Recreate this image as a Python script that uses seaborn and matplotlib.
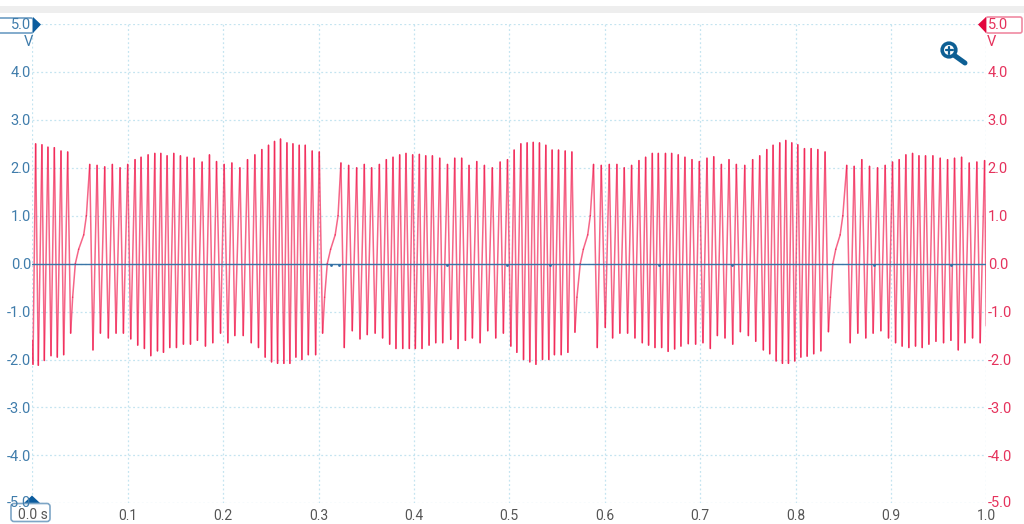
#scope capture, channel B waveform
import pandas as pd
import seaborn as sns
import matplotlib.pyplot as plt
from matplotlib.patches import Circle, FancyBboxPatch, Polygon, Rectangle

# time of every crest, trough and shoulder in ms
wave_t_ms = [
    0.0, 0.7, 3.5, 6.3, 10.1, 12.6, 16.4, 19.6, 23.1, 26.2,
    30.1, 32.9, 37.1, 40.2, 42.3, 45.1, 48.6, 53.9, 56.7, 60.2,
    63.6, 67.9, 71.4, 75.9, 79.7, 83.9, 87.8, 92.0, 95.5, 100.0,
    103.2, 107.7, 110.5, 114.0, 117.5, 121.4, 124.2, 128.4, 131.2, 134.7,
    137.5, 141.3, 144.1, 148.3, 151.1, 155.3, 158.4, 162.3, 165.8, 169.6,
    173.1, 178.0, 181.5, 185.7, 189.2, 193.1, 197.3, 201.1, 205.0, 209.2,
    212.3, 217.6, 221.1, 225.6, 229.5, 233.3, 237.1, 240.6, 244.1, 247.6,
    250.8, 253.9, 257.1, 260.2, 263.7, 266.9, 270.0, 273.2, 276.3, 279.8,
    282.6, 286.1, 289.3, 293.4, 297.0, 300.8, 304.3, 306.4, 309.2, 312.7,
    317.5, 320.5, 323.5, 327.0, 331.6, 335.4, 340.0, 343.5, 348.0, 351.1,
    355.7, 359.4, 363.8, 367.2, 371.1, 374.6, 378.1, 381.2, 385.1, 388.3,
    391.7, 395.2, 398.7, 401.5, 405.7, 408.5, 412.4, 415.9, 419.4, 422.9,
    427.1, 430.2, 435.2, 438.6, 442.8, 446.3, 450.1, 454.0, 457.8, 461.3,
    465.9, 469.4, 473.9, 477.4, 482.2, 485.8, 490.4, 493.8, 498.1, 501.6,
    505.1, 507.9, 512.1, 514.9, 518.7, 521.5, 525.1, 527.9, 531.6, 534.8,
    538.3, 541.4, 544.9, 547.3, 551.6, 554.4, 558.6, 561.4, 565.6, 568.8,
    570.9, 574.4, 577.6, 582.2, 584.9, 588.3, 592.2, 596.4, 600.6, 604.8,
    608.3, 612.8, 615.9, 620.5, 624.0, 628.2, 631.7, 635.9, 639.4, 642.9,
    646.0, 649.9, 652.7, 656.2, 659.7, 663.7, 666.5, 670.2, 673.3, 677.1,
    679.9, 684.1, 687.6, 691.5, 695.3, 699.2, 703.0, 707.2, 710.7, 714.3,
    718.1, 722.3, 726.1, 730.3, 734.2, 738.0, 742.2, 746.8, 750.6, 755.1,
    758.3, 762.5, 766.3, 769.9, 773.0, 776.5, 779.7, 783.5, 786.3, 789.8,
    792.6, 796.1, 799.2, 802.4, 805.6, 809.4, 812.2, 816.4, 819.1, 823.4,
    826.6, 831.0, 834.5, 836.6, 839.1, 842.2, 846.8, 849.6, 853.7, 857.3,
    861.5, 865.3, 869.5, 873.7, 877.6, 881.4, 886.0, 889.5, 894.0, 897.5,
    901.7, 904.9, 908.7, 911.8, 915.7, 918.8, 922.7, 925.8, 929.4, 932.8,
    936.3, 939.8, 944.0, 947.2, 951.7, 955.2, 959.4, 962.9, 966.7, 970.6,
    974.1, 977.6, 982.1, 985.6, 990.1, 993.6, 998.2, 1000.0,
]
wave_v = [
    -1.6, -2.1, 2.5, -2.12, 2.48, -2.02, 2.43, -1.92, 2.42, -1.95,
    2.35, -1.9, 2.33, -1.45, -0.7, 0.0, 0.3, 0.6, 1.0, 2.07,
    -1.8, 2.05, -1.45, 2.02, -1.55, 2.07, -1.45, 2.0, -1.45, 2.07,
    -1.57, 2.17, -1.7, 2.22, -1.77, 2.27, -1.92, 2.3, -1.82, 2.3,
    -1.85, 2.25, -1.75, 2.3, -1.75, 2.25, -1.68, 2.22, -1.68, 2.2,
    -1.6, 2.12, -1.72, 2.27, -1.65, 2.13, -1.45, 2.07, -1.65, 2.1,
    -1.5, 2.0, -1.5, 2.17, -1.65, 2.27, -1.75, 2.38, -1.95, 2.47,
    -2.05, 2.55, -2.08, 2.6, -2.08, 2.52, -2.08, 2.5, -1.95, 2.47,
    -2.0, 2.47, -1.9, 2.35, -1.9, 2.33, -1.45, -0.7, 0.0, 0.3,
    0.6, 1.0, 2.1, -1.75, 2.05, -1.4, 2.0, -1.57, 2.07, -1.48,
    2.0, -1.45, 2.07, -1.55, 2.17, -1.68, 2.22, -1.77, 2.27, -1.77,
    2.3, -1.77, 2.27, -1.77, 2.28, -1.77, 2.25, -1.7, 2.25, -1.65,
    2.2, -1.65, 2.07, -1.58, 2.2, -1.77, 2.2, -1.6, 2.05, -1.55,
    2.13, -1.65, 2.05, -1.4, 2.0, -1.55, 2.12, -1.45, 2.17, -1.72,
    2.37, -1.85, 2.5, -2.0, 2.52, -2.05, 2.53, -2.1, 2.52, -2.0,
    2.47, -2.0, 2.37, -1.9, 2.37, -1.9, 2.35, -1.85, 2.33, -1.43,
    -0.7, 0.0, 0.3, 0.6, 1.0, 2.07, -1.75, 2.05, -1.33, 2.07,
    -1.55, 2.07, -1.45, 2.0, -1.45, 2.05, -1.55, 2.15, -1.65, 2.22,
    -1.7, 2.3, -1.75, 2.3, -1.75, 2.3, -1.83, 2.3, -1.78, 2.27,
    -1.72, 2.22, -1.67, 2.17, -1.68, 2.13, -1.65, 2.2, -1.77, 2.23,
    -1.5, 2.07, -1.55, 2.17, -1.68, 2.07, -1.42, 2.05, -1.5, 2.17,
    -1.62, 2.25, -1.8, 2.38, -1.88, 2.47, -2.03, 2.52, -2.08, 2.57,
    -2.08, 2.52, -2.03, 2.48, -1.95, 2.4, -1.93, 2.4, -1.88, 2.38,
    -1.82, 2.33, -1.42, -0.7, 0.0, 0.3, 0.6, 1.0, 2.05, -1.65,
    2.03, -1.45, 2.17, -1.55, 2.03, -1.45, 2.0, -1.4, 2.05, -1.55,
    2.12, -1.65, 2.17, -1.72, 2.27, -1.75, 2.3, -1.72, 2.25, -1.75,
    2.25, -1.68, 2.25, -1.62, 2.2, -1.65, 2.17, -1.6, 2.2, -1.8,
    2.22, -1.65, 2.1, -1.55, 2.12, -1.65, 2.15, -1.3,
]
# channel A is flat at zero, with a few tiny blips on it
flat_t = [0.0, 1.0]
flat_v = [0.0, 0.0]
blip_t = [0.3127, 0.322, 0.4347, 0.498, 0.5428, 0.657, 0.733, 0.882, 0.9627]
blip_v = [-0.03, -0.03, -0.03, -0.03, -0.03, -0.03, -0.03, -0.03, -0.03]

x_ticks = [0.0, 0.1, 0.2, 0.3, 0.4, 0.5, 0.6, 0.7, 0.8, 0.9, 1.0]
x_labels = ["", "0.1", "0.2", "0.3", "0.4", "0.5", "0.6", "0.7", "0.8", "0.9", "1.0"]
y_ticks = [-5.0, -4.0, -3.0, -2.0, -1.0, 0.0, 1.0, 2.0, 3.0, 4.0, 5.0]
y_labels = ["", "-4.0", "-3.0", "-2.0", "-1.0", "0.0", "1.0", "2.0", "3.0", "4.0", ""]

BLUE = "#3f7cab"
DARK_BLUE = "#0b5c9e"
RED = "#e5325c"
GREY = "#555555"
GRID = "#c4e4f0"

sns.set_theme(style="white")
plt.rcParams["font.family"] = ["Roboto", "DejaVu Sans"]

fig = plt.figure(figsize=(10.24, 5.24), dpi=100)
W, H = 1024, 524
ax = fig.add_axes([32.3 / W, 1 - 503.3 / H, 954 / W, 479.3 / H])

# every stroke is its own line so the alpha builds up where strokes meet at the tips
rows = []
for i in range(len(wave_v) - 1):
    rows.append((i, wave_t_ms[i] / 1000, wave_v[i]))
    rows.append((i, wave_t_ms[i + 1] / 1000, wave_v[i + 1]))
wave = pd.DataFrame(rows, columns=["stroke", "t", "v"])
flat = pd.DataFrame({"t": flat_t, "v": flat_v})
blips = pd.DataFrame({"t": blip_t, "v": blip_v})

sns.lineplot(data=wave, x="t", y="v", units="stroke", estimator=None, sort=False, ax=ax,
             color="#f0083f", linewidth=1.1, alpha=0.62, zorder=3, legend=False)
sns.lineplot(data=flat, x="t", y="v", estimator=None, sort=False, ax=ax,
             color="#3a76a8", linewidth=1.0, zorder=4)
sns.scatterplot(data=blips, x="t", y="v", ax=ax, color="#2f6ea5", s=4, linewidth=0, zorder=4)

ax.set_xlim(0, 1)
ax.set_ylim(-5, 5)
ax.set_xlabel("")
ax.set_ylabel("")
ax.set_xticks(x_ticks, x_labels)
ax.set_yticks(y_ticks, y_labels)
ax.grid(True, color=GRID, linewidth=0.9, linestyle=(0, (1.5, 2)))
ax.set_axisbelow(True)
for s in ax.spines.values():
    s.set_visible(False)
ax.tick_params(axis="x", length=0, pad=4, labelsize=10, labelcolor=GREY)
ax.tick_params(axis="y", length=0, pad=1, labelsize=10.5, labelcolor=BLUE)

right = ax.twinx()
right.set_ylim(-5, 5)
right.set_yticks(y_ticks, y_labels)
right.grid(False)
for s in right.spines.values():
    s.set_visible(False)
right.tick_params(axis="y", length=0, pad=1, labelsize=10.5, labelcolor=RED)

# scope handles and the zoom icon, placed in screen pixels
over = fig.add_axes([0, 0, 1, 1], zorder=10)
over.set_xlim(0, W)
over.set_ylim(H, 0)
over.axis("off")
over.patch.set_alpha(0)

over.add_patch(Rectangle((0, 6), W, 7, color="#eeeeee", lw=0))

over.add_patch(FancyBboxPatch((-4, 18), 37, 15, boxstyle="round,pad=0,rounding_size=2",
                              fc="white", ec="#6d9dc4", lw=1.2))
over.add_patch(Polygon([(33, 17), (41, 24.5), (33, 33)], color=DARK_BLUE, lw=0))
over.text(31, 25, "5.0", color=BLUE, fontsize=10.5, ha="right", va="center")
over.text(28, 42, "V", color=BLUE, fontsize=10.5, ha="center", va="center")

over.add_patch(FancyBboxPatch((986, 17), 36, 16, boxstyle="round,pad=0,rounding_size=2",
                              fc="white", ec="#f08aa2", lw=1.2))
over.add_patch(Polygon([(986, 17), (978, 24.5), (986, 33)], color="#e3063e", lw=0))
over.text(988, 25, "5.0", color=RED, fontsize=10.5, ha="left", va="center")
over.text(991, 42, "V", color=RED, fontsize=10.5, ha="center", va="center")

over.text(31, 503, "-5.0", color=BLUE, fontsize=10.5, ha="right", va="center")
over.text(988, 503, "-5.0", color=RED, fontsize=10.5, ha="left", va="center")
over.add_patch(Polygon([(24, 503), (32, 495.5), (40, 503)], color=DARK_BLUE, lw=0))
over.add_patch(FancyBboxPatch((11, 503.5), 39, 18, boxstyle="round,pad=0,rounding_size=3",
                              fc="white", ec="#7ea6c6", lw=1.2))
over.text(33, 515, "0.0 s", color=GREY, fontsize=10, ha="center", va="center")

over.add_patch(Circle((949, 50), 6.8, fc="white", ec="#0d5f94", lw=2.6))
over.plot([954.5, 965], [55.5, 63], color="#0d5f94", lw=3.6, solid_capstyle="round")
over.plot([945.5, 952.5], [50, 50], color="#0d5f94", lw=1.6)
over.plot([949, 949], [46.5, 53.5], color="#0d5f94", lw=1.6)

fig.savefig("out.png", dpi=100)
